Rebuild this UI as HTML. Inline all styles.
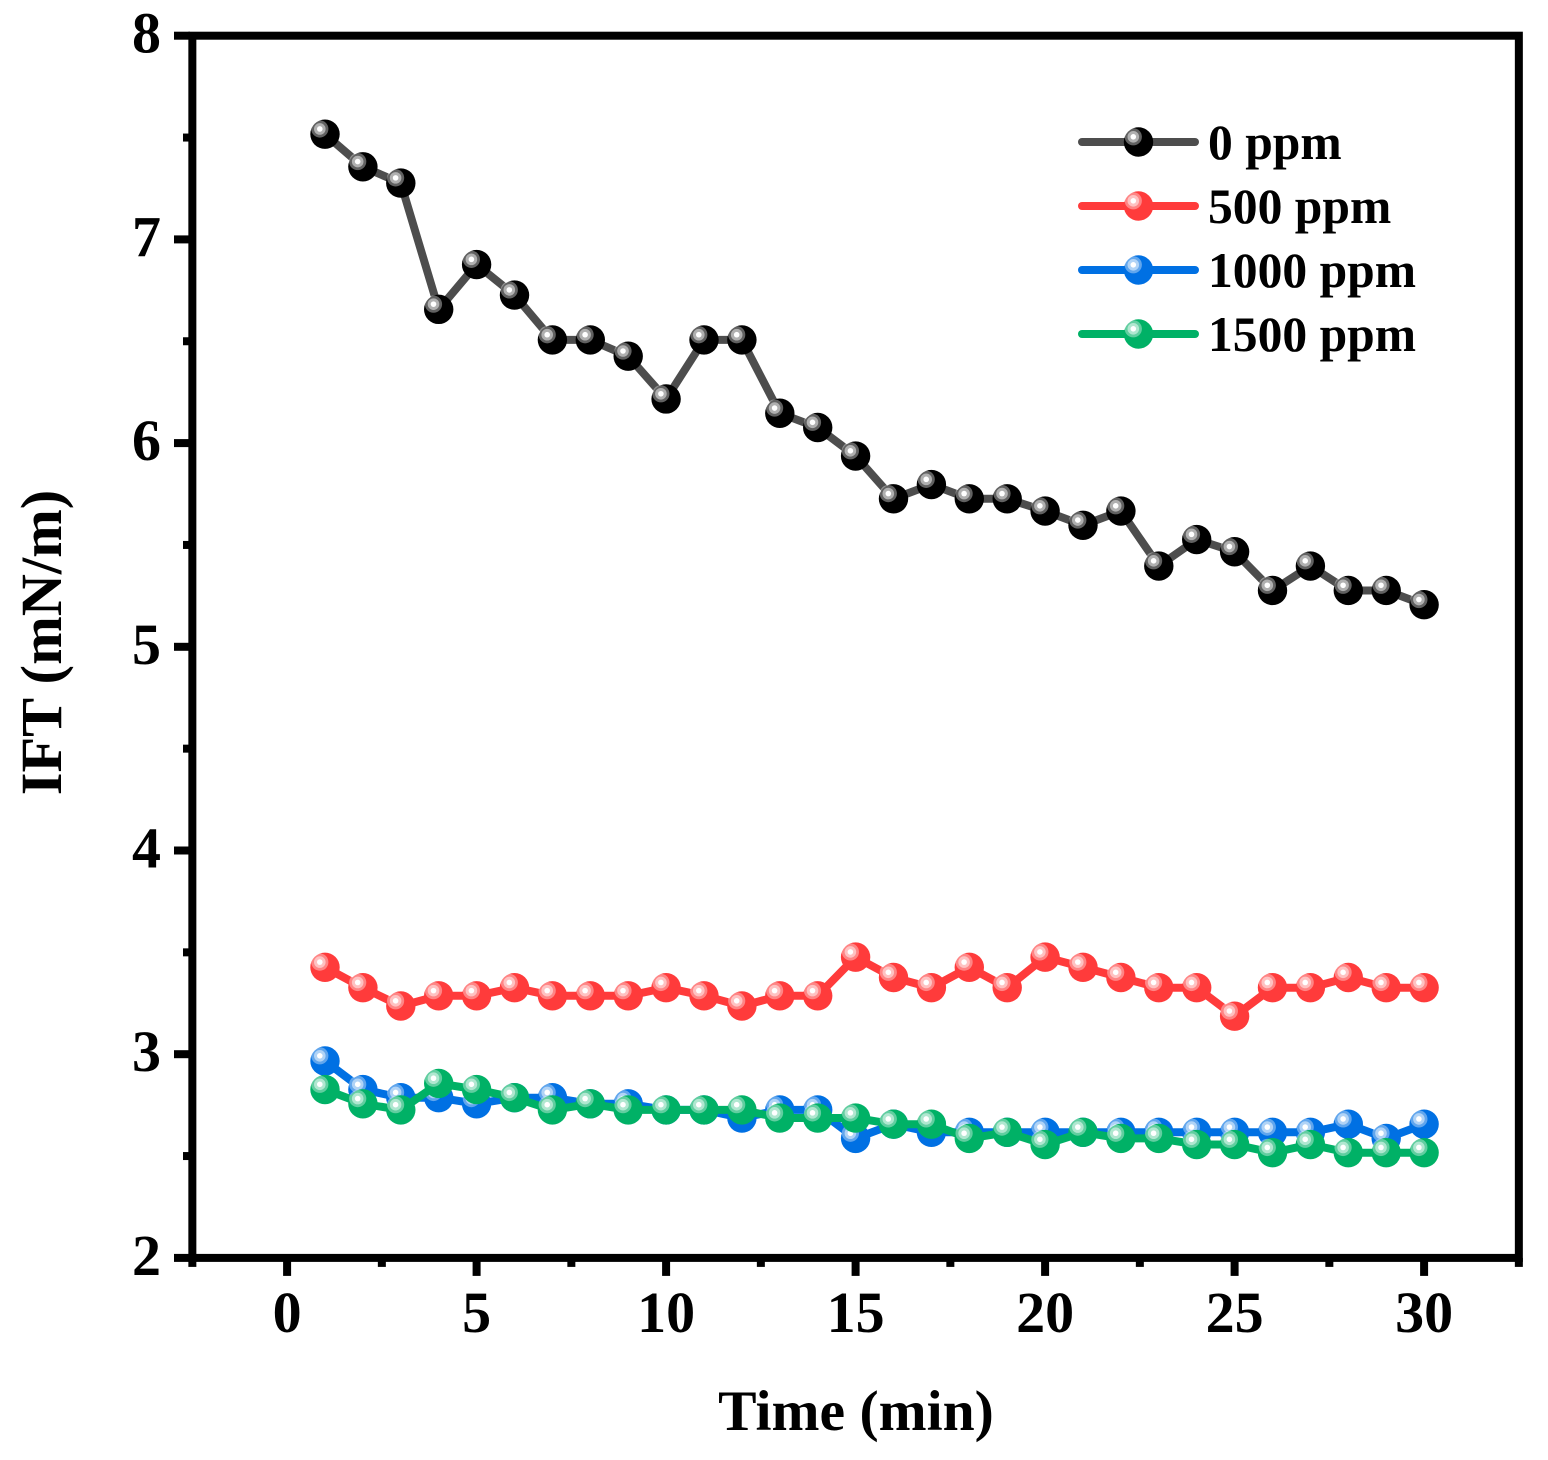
<!DOCTYPE html>
<html lang="en">
<head>
<meta charset="utf-8">
<title>IFT vs Time</title>
<style>
html,body{margin:0;padding:0;background:#fff;}
svg{display:block;}
text{font-family:"Liberation Serif","Times New Roman",serif;font-weight:bold;fill:#000;}
</style>
</head>
<body>
<svg id="chart" xmlns="http://www.w3.org/2000/svg" width="1548" height="1460" viewBox="0 0 1548 1460"></svg>
<script>
const times = [1,2,3,4,5,6,7,8,9,10,11,12,13,14,15,16,17,18,19,20,21,22,23,24,25,26,27,28,29,30];
const ppm0 = [7.52,7.36,7.28,6.66,6.88,6.73,6.51,6.51,6.43,6.22,6.51,6.51,6.15,6.08,5.94,5.73,5.80,5.73,5.73,5.67,5.60,5.67,5.40,5.53,5.47,5.28,5.40,5.28,5.28,5.21];
const ppm500 = [3.43,3.33,3.24,3.29,3.29,3.33,3.29,3.29,3.29,3.33,3.29,3.24,3.29,3.29,3.48,3.38,3.33,3.43,3.33,3.48,3.43,3.38,3.33,3.33,3.19,3.33,3.33,3.38,3.33,3.33];
const ppm1000 = [2.97,2.83,2.79,2.79,2.76,2.79,2.79,2.76,2.76,2.73,2.73,2.69,2.73,2.73,2.59,2.66,2.62,2.62,2.62,2.62,2.62,2.62,2.62,2.62,2.62,2.62,2.62,2.66,2.59,2.66];
const ppm1500 = [2.83,2.76,2.73,2.86,2.83,2.79,2.73,2.76,2.73,2.73,2.73,2.73,2.69,2.69,2.69,2.66,2.66,2.59,2.62,2.56,2.62,2.59,2.59,2.56,2.56,2.52,2.56,2.52,2.52,2.52];
const seriesNames = ["0 ppm","500 ppm","1000 ppm","1500 ppm"];
const xTickLabels = [0,5,10,15,20,25,30];
const xMinorTicks = [-2.5,2.5,7.5,12.5,17.5,22.5,27.5,32.5];
const yTickLabels = [2,3,4,5,6,7,8];
const yMinorTicks = [2.5,3.5,4.5,5.5,6.5,7.5];

const svg = document.getElementById('chart');
const NS = 'http://www.w3.org/2000/svg';
const sx = v => 287.1 + 37.9 * v;
const sy = v => 35.7 + (8 - v) * 203.7;
const seriesOffsetY = 0.7;
const allSeries = [ppm0, ppm500, ppm1000, ppm1500];
const lineColors = ['#4d4d4d','#ff3b3b','#0070e3','#00b166'];
const markColors = ['#000000','#ff3b3b','#0070e3','#00b166'];

function mk(tag, attrs, parent) {
  const e = document.createElementNS(NS, tag);
  for (const k in attrs) e.setAttribute(k, attrs[k]);
  (parent || svg).appendChild(e);
  return e;
}
function drawMarker(parent, cx, cy, fill) {
  const base = mk('circle', {cx: cx, cy: cy, r: 14.7, fill: fill}, parent);
  
  
  const hx = cx - 5.2, hy = cy - 5.2;
  mk('circle', {cx: hx, cy: hy, r: 8.6, fill: '#fff', opacity: 0.38}, parent);
  mk('circle', {cx: hx, cy: hy, r: 5.8, fill: '#fff', opacity: 0.5}, parent);
  mk('circle', {cx: hx, cy: hy, r: 2.8, fill: '#fff'}, parent);
}

/* axes frame */
const axes = mk('g', {});


const left = sx(-2.5), right = sx(32.5), top_ = sy(8), bottom = sy(2);
const frame = mk('rect', {x: left, y: top_, width: right - left, height: bottom - top_, fill: 'none', stroke: '#000', 'stroke-width': 8}, axes);



yTickLabels.forEach(v => {
  const t = mk('rect', {x: 174, y: sy(v) - 4, width: 16, height: 8, fill: '#000'}, axes);
  
  
  const l = mk('text', {x: 161, y: sy(v) + 17, 'text-anchor': 'end', 'font-size': 58}, axes);
  l.textContent = v;
  
  
});
yMinorTicks.forEach(v => {
  const t = mk('rect', {x: 183, y: sy(v) - 4, width: 7, height: 8, fill: '#000'}, axes);
  
  
});
xTickLabels.forEach(v => {
  const t = mk('rect', {x: sx(v) - 4, y: bottom, width: 8, height: 18, fill: '#000'}, axes);
  
  
  const l = mk('text', {x: sx(v), y: 1332, 'text-anchor': 'middle', 'font-size': 58}, axes);
  l.textContent = v;
  
  
});
xMinorTicks.forEach(v => {
  const t = mk('rect', {x: sx(v) - 4, y: bottom, width: 8, height: 9, fill: '#000'}, axes);
  
  
});

const xTitle = mk('text', {x: 856, y: 1430, 'text-anchor': 'middle', 'font-size': 57.6});
xTitle.textContent = 'Time (min)';


const yTitle = mk('text', {x: 0, y: 0, 'text-anchor': 'middle', 'font-size': 58.4, transform: 'translate(61,642.5) rotate(-90)'});
yTitle.textContent = 'IFT (mN/m)';



/* series */
allSeries.forEach((vals, i) => {
  const g = mk('g', {});
  
  
  const pts = times.map((t, j) => sx(t).toFixed(1) + ',' + (sy(vals[j]) + seriesOffsetY).toFixed(1)).join(' ');
  const line = mk('polyline', {points: pts, fill: 'none', stroke: lineColors[i], 'stroke-width': 8, 'stroke-linejoin': 'round'}, g);
  
  
  times.forEach((t, j) => drawMarker(g, sx(t), sy(vals[j]) + seriesOffsetY, markColors[i]));
});

/* legend */
const legend = mk('g', {});


seriesNames.forEach((name, i) => {
  const y = 142 + i * 64;
  const entry = mk('g', {}, legend);
  
  
  mk('line', {x1: 1082, x2: 1195, y1: y, y2: y, stroke: lineColors[i], 'stroke-width': 8, 'stroke-linecap': 'round'}, entry);
  drawMarker(entry, 1138.5, y, markColors[i]);
  const label = mk('text', {x: 1208, y: y + 17, 'font-size': 49.6}, entry);
  label.textContent = name;
  
  
});
</script>
</body>
</html>
